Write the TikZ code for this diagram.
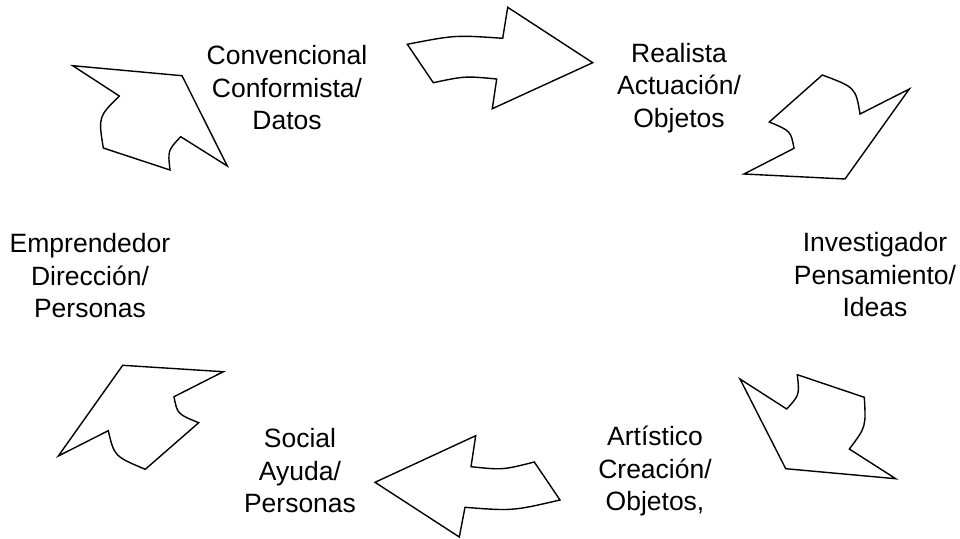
\documentclass[tikz,border=0pt]{standalone}
\usepackage{fontspec}
\setmainfont{Liberation Sans}
\usetikzlibrary{positioning}

\begin{document}
\begin{tikzpicture}[x=1pt, y=-1pt,
  lbl/.style={align=center, inner sep=0pt, font=\fontsize{26.5}{32.5}\selectfont},
  blockarrow/.style={draw, line width=1.4pt, line join=miter, fill=white}]
\useasboundingbox (0,0) rectangle (960,538);
\node[lbl] (conv) at (287,88) {Convencional\\Conformista/\\Datos};
\node[lbl] (real) at (679,88) {Realista\\Actuación/\\Objetos};
\node[lbl] (inv) at (875,275) {Investigador\\Pensamiento/\\Ideas};
\node[lbl] (art) at (655,471) {Artístico\\Creación/\\Objetos,};
\node[lbl] (soc) at (300,471) {Social\\Ayuda/\\Personas};
\node[lbl] (emp) at (90,276) {Emprendedor\\Dirección/\\Personas};
\draw[blockarrow] (407.3,44.3) .. controls (455,35) .. (502.7,38.3) -- (507.7,7.3) -- (592.7,62.7)
  -- (492.3,108.7) -- (496.7,79) .. controls (465,76) .. (433.3,82.7) -- cycle;
\draw[blockarrow] (822.3,75) .. controls (855.6,87.5) .. (860,114) -- (909.3,89) -- (845,179)
  -- (744,174) -- (794,148.3) .. controls (790.8,131) .. (769.3,122) -- cycle;
\draw[blockarrow] (740,379) -- (786.7,409) .. controls (799.5,395) .. (797.3,374.7) -- (864.3,397.3)
  .. controls (866,427) .. (849.3,449) -- (895.7,478.7) -- (785.7,468.7) -- cycle;
\draw[blockarrow] (375,482.3) -- (475.7,435.7) -- (471,466.7) .. controls (502.7,470) .. (534.3,462)
  -- (560,500) .. controls (512.5,511) .. (465,507.3) -- (459.3,537) -- cycle;
\draw[blockarrow] (122.7,365.3) -- (223.3,371.7) -- (174,396.7) .. controls (177.3,414) .. (198.7,422.7)
  -- (145.3,469.3) .. controls (114.3,456.3) .. (108.3,430.7) -- (58.3,456) -- cycle;
\draw[blockarrow] (72.7,65.7) -- (182,75.7) -- (227.3,166) -- (180.7,136.7) .. controls (167.8,150.4) .. (170,170)
  -- (103.3,148) .. controls (98.3,116.8) .. (119.3,96) -- cycle;
\end{tikzpicture}
\end{document}
